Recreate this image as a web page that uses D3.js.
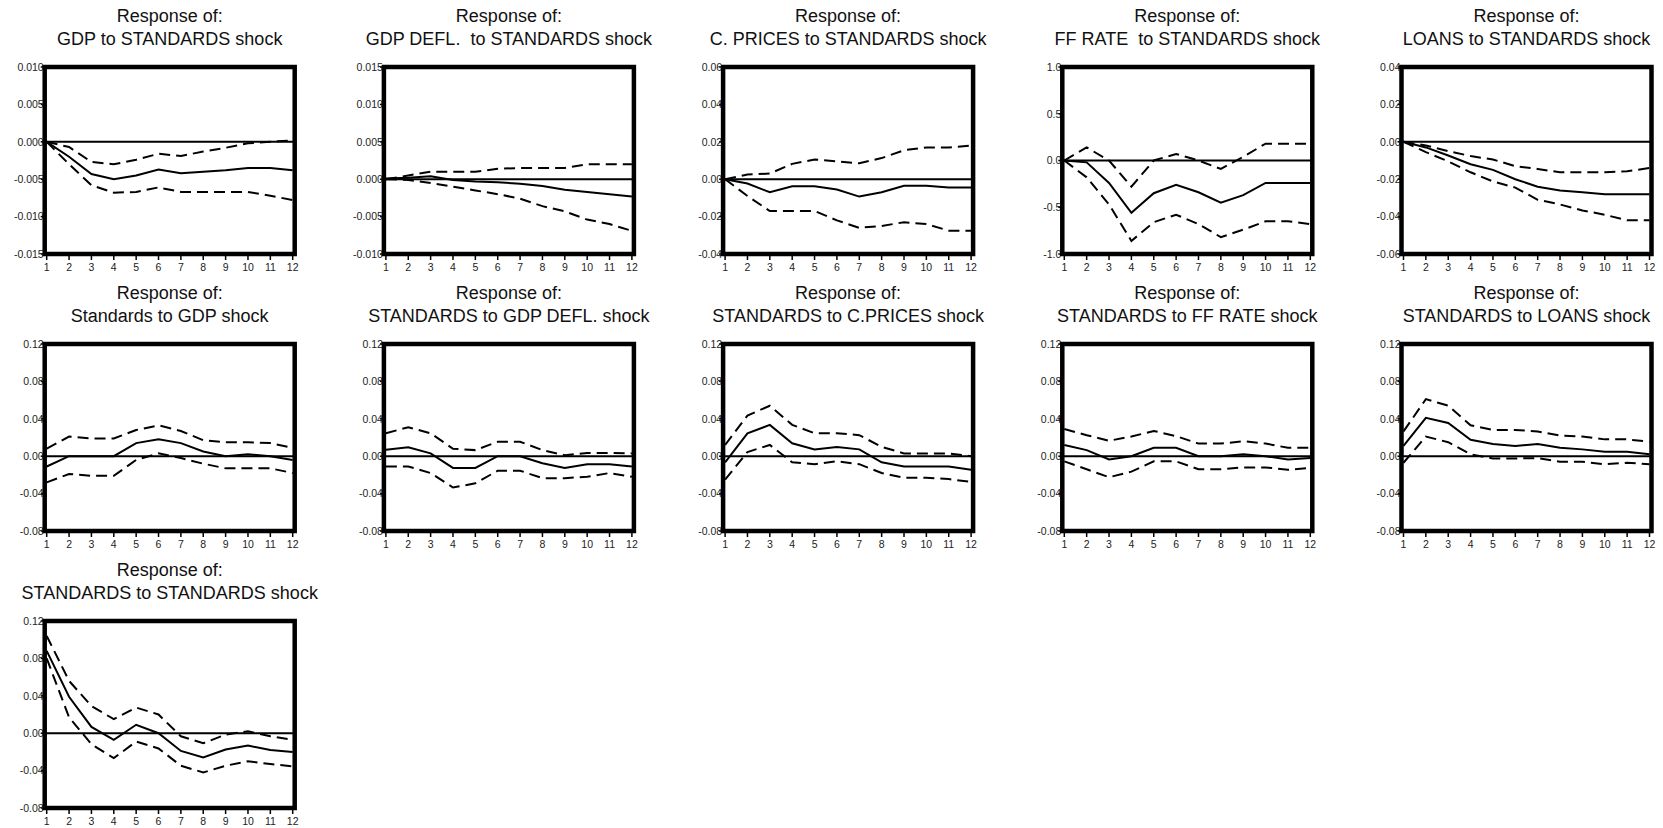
<!DOCTYPE html>
<html>
<head>
<meta charset="utf-8">
<script src="https://cdn.jsdelivr.net/npm/d3@7"></script>
<style>
  body { margin: 0; background: #fff; }
  svg { display: block; }
  text { font-family: "Liberation Sans", Arial, sans-serif; fill: #000; }
</style>
</head>
<body>
<div class="chart"></div>
<script>
// Panel titles (second line, after "Response of:")
var titles = [
  "GDP to STANDARDS shock",
  "GDP DEFL.  to STANDARDS shock",
  "C. PRICES to STANDARDS shock",
  "FF RATE  to STANDARDS shock",
  "LOANS to STANDARDS shock",
  "Standards to GDP shock",
  "STANDARDS to GDP DEFL. shock",
  "STANDARDS to C.PRICES shock",
  "STANDARDS to FF RATE shock",
  "STANDARDS to LOANS shock",
  "STANDARDS to STANDARDS shock"
];

var periods = [1,2,3,4,5,6,7,8,9,10,11,12];

// y tick values and decimals for each panel
var stdTicks = [-0.08,-0.04,0.00,0.04,0.08,0.12];
var yTicks = [
  [-0.015,-0.010,-0.005,0.000,0.005,0.010],
  [-0.010,-0.005,0.000,0.005,0.010,0.015],
  [-0.04,-0.02,0.00,0.02,0.04,0.06],
  [-1.0,-0.5,0.0,0.5,1.0],
  [-0.06,-0.04,-0.02,0.00,0.02,0.04],
  stdTicks, stdTicks, stdTicks, stdTicks, stdTicks, stdTicks
];
var decimals = [3,3,2,1,2,2,2,2,2,2,2];

// impulse responses (point estimate)
var irfMid = [
  [0,-0.002,-0.0043,-0.005,-0.0045,-0.0037,-0.0042,-0.004,-0.0038,-0.0035,-0.0035,-0.0038],
  [0.0001,0.0002,0.0004,-0.0001,-0.0003,-0.0004,-0.0006,-0.0009,-0.0014,-0.0017,-0.002,-0.0023],
  [0,-0.0023,-0.007,-0.0038,-0.0038,-0.0055,-0.0093,-0.007,-0.0035,-0.0035,-0.0045,-0.0045],
  [0,-0.02,-0.24,-0.56,-0.35,-0.26,-0.34,-0.45,-0.37,-0.24,-0.24,-0.24],
  [0,-0.003,-0.0073,-0.012,-0.015,-0.02,-0.024,-0.026,-0.027,-0.028,-0.028,-0.028],
  [-0.011,0,0,0,0.014,0.018,0.014,0.005,0,0.002,0,-0.004],
  [0.007,0.0095,0.003,-0.0125,-0.0125,0,0,-0.0075,-0.0125,-0.0085,-0.0085,-0.011],
  [-0.0065,0.0245,0.0335,0.0138,0.0073,0.0098,0.0073,-0.0065,-0.011,-0.011,-0.011,-0.0145],
  [0.012,0.0065,-0.0035,0,0.009,0.009,0,0,0.002,0,-0.0035,-0.002],
  [0.011,0.041,0.0355,0.0175,0.013,0.011,0.013,0.009,0.0073,0.0047,0.0047,0.002],
  [0.088,0.039,0.0067,-0.007,0.009,0,-0.019,-0.026,-0.0174,-0.0133,-0.018,-0.02]
];

// lower band
var irfLo = [
  [0,-0.003,-0.0058,-0.0068,-0.0067,-0.0061,-0.0067,-0.0067,-0.0067,-0.0067,-0.0072,-0.0078],
  [0,-0.0001,-0.0005,-0.001,-0.0015,-0.002,-0.0026,-0.0036,-0.0043,-0.0054,-0.006,-0.0069],
  [0,-0.009,-0.017,-0.017,-0.017,-0.022,-0.026,-0.025,-0.023,-0.024,-0.0275,-0.0275],
  [0,-0.18,-0.47,-0.86,-0.66,-0.58,-0.68,-0.82,-0.74,-0.65,-0.65,-0.68],
  [0,-0.0055,-0.0105,-0.0163,-0.0212,-0.0245,-0.031,-0.0335,-0.0367,-0.039,-0.042,-0.042],
  [-0.028,-0.019,-0.021,-0.021,-0.004,0.003,-0.002,-0.008,-0.013,-0.013,-0.013,-0.018],
  [-0.011,-0.011,-0.018,-0.0335,-0.029,-0.0155,-0.0155,-0.0235,-0.0235,-0.022,-0.018,-0.022],
  [-0.025,0.0045,0.012,-0.0065,-0.0085,-0.0055,-0.0085,-0.018,-0.023,-0.023,-0.0245,-0.0275],
  [-0.0055,-0.014,-0.0225,-0.0165,-0.0055,-0.0055,-0.014,-0.014,-0.012,-0.012,-0.0145,-0.0125],
  [-0.007,0.021,0.015,0.002,-0.0025,-0.0025,-0.002,-0.006,-0.006,-0.0087,-0.007,-0.0087],
  [0.08,0.017,-0.0118,-0.0267,-0.0089,-0.0163,-0.0348,-0.042,-0.0348,-0.03,-0.033,-0.0355]
];

// upper band
var irfHi = [
  [0,-0.0007,-0.0027,-0.003,-0.0024,-0.0016,-0.0019,-0.0013,-0.0008,-0.0002,0,0.0002],
  [0,0.0005,0.001,0.001,0.001,0.0014,0.0015,0.0015,0.0015,0.002,0.002,0.002],
  [0,0.0025,0.003,0.0082,0.0105,0.0095,0.0085,0.0113,0.0155,0.017,0.017,0.018],
  [0,0.14,0,-0.28,0,0.07,0,-0.09,0.04,0.18,0.18,0.18],
  [0,-0.002,-0.005,-0.0076,-0.0095,-0.013,-0.0145,-0.0163,-0.0163,-0.0163,-0.0158,-0.014],
  [0.008,0.021,0.019,0.019,0.028,0.033,0.027,0.017,0.015,0.015,0.014,0.009],
  [0.0245,0.031,0.0245,0.008,0.0065,0.0155,0.0155,0.0065,0.001,0.0035,0.0035,0.003],
  [0.012,0.0435,0.054,0.0335,0.0245,0.0245,0.0225,0.01,0.003,0.003,0.003,0],
  [0.029,0.0225,0.0165,0.021,0.027,0.0215,0.0135,0.0135,0.016,0.0135,0.009,0.009],
  [0.0265,0.061,0.054,0.033,0.028,0.028,0.0265,0.022,0.021,0.018,0.018,0.0155],
  [0.104,0.056,0.029,0.015,0.0274,0.02,-0.0033,-0.0107,-0.0015,0.002,-0.0033,-0.007]
];

var width = 1663, height = 828;
var pw = 250, ph = 187;

var svg = d3.select(".chart").append("svg")
    .attr("width", width)
    .attr("height", height);

titles.forEach(function(t, i) {
    var col = i % 5, row = Math.floor(i / 5);
    var left = 44.7 + 339.2*col, top = 67 + 277*row;
    drawPanel(i, left, top);
});

function drawPanel(i, left, top) {
    var g = svg.append("g").attr("class", "panel");
    var ticks = yTicks[i];
    var x = d3.scaleLinear().domain([1, 12]).range([left + 2, left + pw - 2]);
    var y = d3.scaleLinear().domain(d3.extent(ticks)).range([top + ph, top]);
    var cx = left + pw/2;

    // title
    g.append("text")
	.attr("x", cx).attr("y", top - 45)
	.attr("text-anchor", "middle")
	.style("font-size", "18px")
	.style("fill", "#111")
	.text("Response of:");
    g.append("text")
	.attr("x", cx).attr("y", top - 22)
	.attr("text-anchor", "middle")
	.style("font-size", "18px")
	.style("fill", "#111")
	.style("white-space", "pre")
	.text(titles[i]);

    // y axis ticks + labels
    g.selectAll(".ytick")
	.data(ticks)
	.enter().append("line")
	.attr("x1", left - 4).attr("x2", left)
	.attr("y1", function(d) { return y(d) }).attr("y2", function(d) { return y(d) })
	.attr("stroke", "#000").attr("stroke-width", 1.5);
    g.selectAll(".ylab")
	.data(ticks)
	.enter().append("text")
	.attr("x", left - 1)
	.attr("y", function(d) { return y(d) + 3.8 })
	.attr("text-anchor", "end")
	.style("font-size", "10.5px")
	.style("fill", "#222")
	.text(function(d) { return d.toFixed(decimals[i]) });

    // x axis ticks + labels
    g.selectAll(".xtick")
	.data(periods)
	.enter().append("line")
	.attr("x1", function(d) { return x(d) }).attr("x2", function(d) { return x(d) })
	.attr("y1", top + ph).attr("y2", top + ph + 6)
	.attr("stroke", "#000").attr("stroke-width", 1.5);
    g.selectAll(".xlab")
	.data(periods)
	.enter().append("text")
	.attr("x", function(d) { return x(d) })
	.attr("y", top + ph + 16.5)
	.attr("text-anchor", "middle")
	.style("font-size", "10.5px")
	.style("fill", "#222")
	.text(function(d) { return d });

    // zero line
    g.append("line")
	.attr("x1", left).attr("x2", left + pw)
	.attr("y1", y(0)).attr("y2", y(0))
	.attr("stroke", "#000").attr("stroke-width", 2);

    var line = d3.line()
	.x(function(d, k) { return x(periods[k]) })
	.y(function(d) { return y(d) });

    [irfLo[i], irfHi[i]].forEach(function(band) {
	g.append("path")
	    .attr("d", line(band))
	    .attr("fill", "none")
	    .attr("stroke", "#000")
	    .attr("stroke-width", 2)
	    .attr("stroke-dasharray", "11,6");
    });
    g.append("path")
	.attr("d", line(irfMid[i]))
	.attr("fill", "none")
	.attr("stroke", "#000")
	.attr("stroke-width", 2);

    // frame
    g.append("rect")
	.attr("x", left).attr("y", top)
	.attr("width", pw).attr("height", ph)
	.attr("fill", "none")
	.attr("stroke", "#000")
	.attr("stroke-width", 4.5);
}
</script>
</body>
</html>
